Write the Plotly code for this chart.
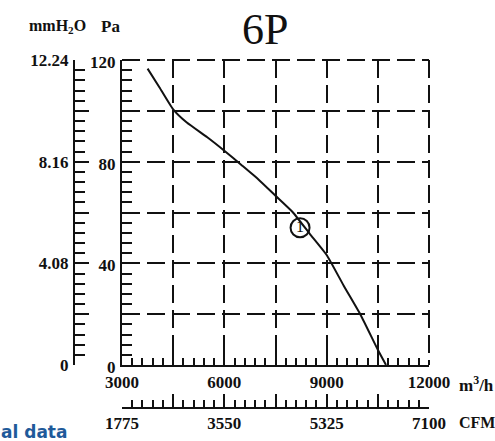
import plotly.graph_objects as go

# Fan curve 6P: static pressure vs air flow
flow_m3h = [3750, 4100, 4500, 4900, 5500, 6000, 6500, 7000, 7500, 8000, 8500, 9000, 9500, 10000, 10500, 10740]
pressure_pa = [116.6, 109.2, 100.6, 95.4, 89.6, 84.3, 78.7, 73.0, 66.6, 60.2, 51.7, 43.3, 31.2, 19.6, 6.0, 0.0]

# Marked operating point "1"
point_flow = [8220]
point_pa = [54.0]
point_label = ["1"]

# Axis ticks and labels
flow_ticks = [3000, 4500, 6000, 7500, 9000, 10500, 12000]
flow_labels = ["3000", "", "6000", "", "9000", "", "12000"]
cfm_ticks = [1775, 2662.5, 3550, 4437.5, 5325, 6212.5, 7100]
cfm_labels = ["1775", "", "3550", "", "5325", "", "7100"]
pa_ticks = [0, 20, 40, 60, 80, 100, 120]
pa_labels = ["0", "", "40", "", "80", "", "120"]
mm_ticks = [0, 2.04, 4.08, 6.12, 8.16, 10.2, 12.24]
mm_labels = ["0", "", "4.08", "", "8.16", "", "12.24"]

FONT = "Liberation Serif, Times New Roman, serif"
INK = "#111111"

W, H = 495, 441


def px_x(p):
    return p / W


def px_y(p):
    return (H - p) / H


fig = go.Figure()

fig.add_trace(go.Scatter(
    x=flow_m3h, y=pressure_pa, mode="lines",
    line=dict(color=INK, width=2, shape="spline", smoothing=0.45),
    hoverinfo="skip", showlegend=False))

fig.add_trace(go.Scatter(
    x=point_flow, y=point_pa, mode="markers+text", text=point_label,
    textposition="middle center",
    textfont=dict(family=FONT, size=16, color=INK),
    marker=dict(symbol="circle-open", size=19, color=INK, line=dict(width=2)),
    hoverinfo="skip", showlegend=False))

# carriers for the secondary CFM and mmH2O scales
fig.add_trace(go.Scatter(x=[cfm_ticks[0], cfm_ticks[-1]], y=[0, 0], xaxis="x2", yaxis="y",
                         mode="markers", marker=dict(opacity=0), hoverinfo="skip", showlegend=False))
fig.add_trace(go.Scatter(x=[flow_ticks[0], flow_ticks[-1]], y=[0, 0], xaxis="x", yaxis="y2",
                         mode="markers", marker=dict(opacity=0), hoverinfo="skip", showlegend=False))

tickfont = dict(family=FONT, size=17, color=INK, weight="bold")
grid = dict(showgrid=True, gridcolor=INK, gridwidth=2, griddash="18px,7px")


def minor_vals(ticks, n):
    out = []
    for a, b in zip(ticks[:-1], ticks[1:]):
        step = (b - a) / n
        out += [a + k * step for k in range(1, n)]
    return out


def minor(ticks, length):
    return dict(tickmode="array", tickvals=minor_vals(ticks, 5), ticks="inside",
                ticklen=length, tickwidth=2, tickcolor=INK, showgrid=False)


fig.update_layout(
    width=W, height=H,
    margin=dict(l=0, r=0, t=0, b=0, pad=0),
    paper_bgcolor="white", plot_bgcolor="white",
    xaxis=dict(domain=[px_x(122), px_x(429)], range=[flow_ticks[0], flow_ticks[-1]], anchor="y",
               tickmode="array", tickvals=flow_ticks, ticktext=flow_labels,
               ticks="inside", ticklen=12, tickwidth=2, tickcolor=INK,
               showline=True, linecolor=INK, linewidth=2, zeroline=False, automargin=False,
               tickfont=tickfont, ticklabelstandoff=1, minor=minor(flow_ticks, 7), **grid),
    xaxis2=dict(overlaying="x", anchor="free", position=px_y(408), side="bottom",
                range=[cfm_ticks[0], cfm_ticks[-1]],
                tickmode="array", tickvals=cfm_ticks, ticktext=cfm_labels,
                ticks="inside", ticklen=13, tickwidth=2, tickcolor=INK,
                showline=True, linecolor=INK, linewidth=2, zeroline=False, showgrid=False,
                automargin=False, tickfont=tickfont, ticklabelstandoff=0,
                minor=minor(cfm_ticks, 7)),
    yaxis=dict(domain=[px_y(365), px_y(60)], range=[pa_ticks[0], pa_ticks[-1]], anchor="x",
               tickmode="array", tickvals=pa_ticks, ticktext=pa_labels,
               ticks="inside", ticklen=14, tickwidth=2, tickcolor=INK,
               showline=True, linecolor=INK, linewidth=2, zeroline=False, automargin=False,
               tickfont=tickfont, ticklabelstandoff=1, ticklabelshift=2,
               minor=minor(pa_ticks, 10), **grid),
    yaxis2=dict(overlaying="y", anchor="free", position=px_x(74), side="left",
                range=[mm_ticks[0], mm_ticks[-1]],
                tickmode="array", tickvals=mm_ticks, ticktext=mm_labels,
                ticks="inside", ticklen=14, tickwidth=2, tickcolor=INK,
                showline=True, linecolor=INK, linewidth=2, zeroline=False, showgrid=False,
                automargin=False, tickfont=tickfont, ticklabelstandoff=1,
                minor=minor(mm_ticks, 10)),
)

# dashed frame along the top and right edges
dash = dict(color=INK, width=2, dash="18px,7px")
fig.add_shape(type="line", xref="x domain", yref="y domain", x0=0, x1=1, y0=1, y1=1, line=dash)
fig.add_shape(type="line", xref="x domain", yref="y domain", x0=1, x1=1, y0=1, y1=0, line=dash)

texts = [
    dict(text="6P", x=265, y=29, size=44, anchor="center", weight="normal"),
    dict(text="mmH<sub>2</sub>O", x=57, y=27, size=16, anchor="center", weight="bold"),
    dict(text="Pa", x=110, y=27, size=17, anchor="center", weight="bold"),
    dict(text="m<sup>3</sup>/h", x=457, y=384, size=17, anchor="left", weight="bold"),
    dict(text="CFM", x=457, y=422, size=16, anchor="left", weight="bold"),
]
for t in texts:
    fig.add_annotation(text=t["text"], x=px_x(t["x"]), y=px_y(t["y"]), xref="paper", yref="paper",
                       xanchor=t["anchor"], yanchor="middle", showarrow=False,
                       font=dict(family=FONT, size=t["size"], color=INK, weight=t["weight"]))

fig.add_annotation(text="<b>al data</b>", x=px_x(0), y=px_y(432), xref="paper", yref="paper",
                   xanchor="left", yanchor="middle", showarrow=False, borderpad=0,
                   font=dict(family="DejaVu Sans, Verdana, sans-serif", size=17, color="#1f5a9a"))

fig.write_html("out.html")
